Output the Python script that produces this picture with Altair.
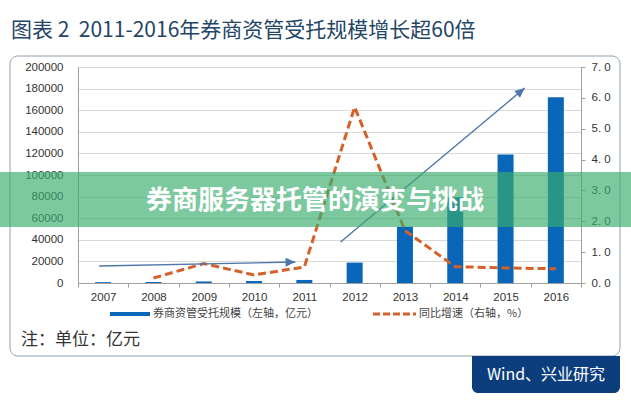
import math
import altair as alt
import pandas as pd

# ---------------- data ----------------
years = ["2007", "2008", "2009", "2010", "2011", "2012", "2013", "2014", "2015", "2016"]
scale_values = [780, 920, 1430, 1870, 2820, 18900, 52000, 79500, 118900, 172000]  # 亿元, left axis
growth_years = ["2008", "2009", "2010", "2011", "2012", "2013", "2014", "2015", "2016"]
growth_values = [0.16, 0.63, 0.26, 0.52, 5.70, 1.70, 0.53, 0.49, 0.46]  # right axis

# annotation arrows, in (category index, left-axis value) units
arrow_x0 = [-0.08, 4.72]
arrow_y0 = [15700, 38000]
arrow_x1 = [3.82, 8.38]
arrow_y1 = [19400, 180500]

left_ticks = list(range(0, 200001, 20000))
right_ticks = [0, 1, 2, 3, 4, 5, 6, 7]

title_text = "图表 2\u00a0\u00a02011-2016年券商资管受托规模增长超60倍"
legend_bar_text = "券商资管受托规模（左轴，亿元）"
legend_line_text = "同比增速（右轴，%）"
note_text = "注：单位：亿元"
source_text = "Wind、兴业研究"
banner_text = "券商服务器托管的演变与挑战"

# ---------------- layout ----------------
W, H = 503, 216
PAD = {"left": 78, "top": 67, "right": 50, "bottom": 117}
LEFT_MAX, RIGHT_MAX = 200000, 7
N = len(years)

BLUE = "#0A66B8"
ORANGE = "#D4612A"
ARROW = "#4F76AA"
CJK = "Noto Sans CJK SC"
LAT = "Liberation Sans"

bars_df = pd.DataFrame({"year": years, "value": scale_values})
line_df = pd.DataFrame({"year": growth_years, "g": growth_values})


def head_angle(x0, y0, x1, y1):
    dx = (x1 - x0) * W / N
    dy = -(y1 - y0) * H / LEFT_MAX
    return math.degrees(math.atan2(dx, -dy))


arrows_df = pd.DataFrame({
    "x0": arrow_x0, "y0": arrow_y0, "x1": arrow_x1, "y1": arrow_y1,
    "ang": [head_angle(a, b, c, d) for a, b, c, d in zip(arrow_x0, arrow_y0, arrow_x1, arrow_y1)],
})
one = pd.DataFrame({"a": [0]})

xscale = alt.Scale(domain=years, paddingInner=0, paddingOuter=0)

bars = alt.Chart(bars_df).mark_bar(color=BLUE, width=16).encode(
    x=alt.X("year:O", scale=xscale, sort=years,
            axis=alt.Axis(title=None, labelAngle=0, tickBand="extent", tickSize=4,
                          tickColor="#a0a0a0", domainColor="#a0a0a0", labelPadding=4,
                          labelFontSize=11.5, labelColor="#333", labelFont=LAT)),
    y=alt.Y("value:Q", scale=alt.Scale(domain=[0, LEFT_MAX], nice=False),
            axis=alt.Axis(orient="left", title=None, values=left_ticks, format="d",
                          grid=True, gridColor="#d9d9d9", ticks=False, labelPadding=15,
                          domainColor="#a0a0a0", labelFontSize=11.5, labelColor="#333",
                          labelFont=LAT)),
)

line = alt.Chart(line_df).mark_line(color=ORANGE, strokeWidth=3, strokeDash=[8, 4]).encode(
    x=alt.X("year:O", scale=xscale, sort=years, axis=None),
    y=alt.Y("g:Q", scale=alt.Scale(domain=[0, RIGHT_MAX], nice=False),
            axis=alt.Axis(orient="right", title=None, values=right_ticks, grid=False,
                          tickSize=4, tickColor="#a0a0a0", domainColor="#a0a0a0",
                          labelPadding=6, labelFontSize=11.5, labelColor="#333",
                          labelFont=LAT,
                          labelExpr="replace(format(datum.value, '.1f'), '.', '. ')")),
)

ax_x = alt.Scale(domain=[-0.5, N - 0.5], nice=False, zero=False)
ax_y = alt.Scale(domain=[0, LEFT_MAX], nice=False)

arrow_lines = alt.Chart(arrows_df).mark_rule(color=ARROW, strokeWidth=1.4).encode(
    x=alt.X("x0:Q", scale=ax_x, axis=None),
    x2="x1:Q",
    y=alt.Y("y0:Q", scale=ax_y, axis=None),
    y2="y1:Q",
)
arrow_heads = alt.Chart(arrows_df).mark_point(
    shape="M0,0L-0.45,1L0.45,1Z", filled=True, color=ARROW, size=380, opacity=1
).encode(
    x=alt.X("x1:Q", scale=ax_x, axis=None),
    y=alt.Y("y1:Q", scale=ax_y, axis=None),
    angle=alt.Angle("ang:Q", scale=None),
)

# ---------------- decorations (pixel positions relative to plot origin) ----------------
def px(x):
    return x - PAD["left"]


def py(y):
    return y - PAD["top"]


frame = alt.Chart(one).mark_rect(fill="white", fillOpacity=0, stroke="#8fa0ad",
                                 strokeWidth=1, cornerRadius=8).encode(
    x=alt.value(px(10)), x2=alt.value(px(620)), y=alt.value(py(56)), y2=alt.value(py(356)))

title = alt.Chart(one).mark_text(text=title_text, font=CJK, fontSize=21, color="#244566",
                                 align="left", baseline="alphabetic").encode(
    x=alt.value(px(11)), y=alt.value(py(37)))

leg_bar = alt.Chart(one).mark_rect(color=BLUE).encode(
    x=alt.value(px(110)), x2=alt.value(px(150)), y=alt.value(py(312)), y2=alt.value(py(316)))
leg_bar_t = alt.Chart(one).mark_text(text=legend_bar_text, font=CJK, fontSize=11, color="#444",
                                     align="left", baseline="middle").encode(
    x=alt.value(px(153)), y=alt.value(py(314)))
leg_line = alt.Chart(one).mark_rule(color=ORANGE, strokeWidth=3, strokeDash=[7, 3]).encode(
    x=alt.value(px(373)), x2=alt.value(px(416)), y=alt.value(py(314)))
leg_line_t = alt.Chart(one).mark_text(text=legend_line_text, font=CJK, fontSize=11, color="#444",
                                      align="left", baseline="middle").encode(
    x=alt.value(px(419)), y=alt.value(py(314)))

note = alt.Chart(one).mark_text(text=note_text, font=CJK, fontSize=17, color="#333",
                                align="left", baseline="middle").encode(
    x=alt.value(px(21)), y=alt.value(py(340)))

footer = alt.Chart(one).mark_rect(color="#0C3E7E", cornerRadiusBottomLeft=6,
                                  cornerRadiusBottomRight=6).encode(
    x=alt.value(px(472)), x2=alt.value(px(620)), y=alt.value(py(356)), y2=alt.value(py(393)))
footer_t = alt.Chart(one).mark_text(text=source_text, font=CJK, fontSize=16, color="white",
                                    align="center", baseline="middle").encode(
    x=alt.value(px(546)), y=alt.value(py(375)))

banner = alt.Chart(one).mark_rect(color="#38AD6E", opacity=0.66).encode(
    x=alt.value(px(0)), x2=alt.value(px(631)), y=alt.value(py(172)), y2=alt.value(py(227)))
banner_t = alt.Chart(one).mark_text(text=banner_text, font=CJK, fontSize=26, fontWeight="bold",
                                    color="white", align="center", baseline="middle").encode(
    x=alt.value(px(315)), y=alt.value(py(201)))

chart = alt.layer(
    frame, bars, line, arrow_lines, arrow_heads,
    title, leg_bar, leg_bar_t, leg_line, leg_line_t, note, footer, footer_t,
    banner, banner_t,
).resolve_scale(
    x="independent", y="independent"
).properties(
    width=W, height=H,
    autosize=alt.AutoSizeParams(type="none"),
    padding=PAD,
    background="white",
).configure_view(stroke="#a6a6a6", strokeWidth=1)

chart.save("out.html", embed_options={"renderer": "svg", "actions": False})
